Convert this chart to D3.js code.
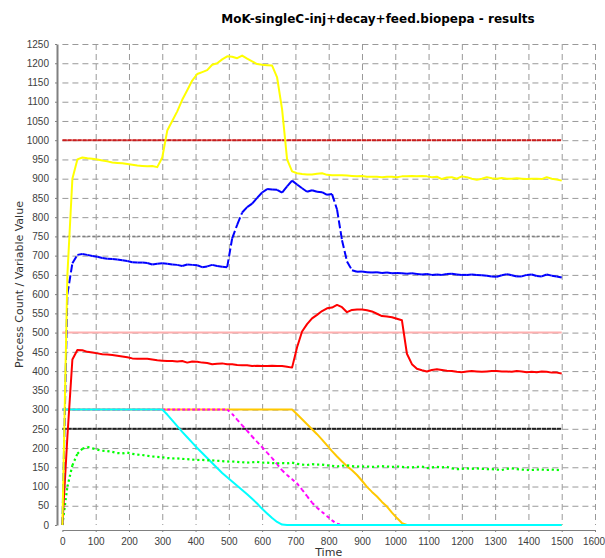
<!DOCTYPE html>
<html>
<head>
<meta charset="utf-8">
<script src="https://cdn.jsdelivr.net/npm/d3@7"></script>
<style>
  body { margin: 0; background: #fff; }
  svg { display: block; }
  .tick text { font-family: "Liberation Sans", Arial, sans-serif; font-size: 10px; fill: #404040; }
  .axis-label { font-family: "DejaVu Sans", sans-serif; font-size: 11px; fill: #333; }
  .title { font-family: "DejaVu Sans", sans-serif; font-size: 12px; font-weight: bold; fill: #000; }
</style>
</head>
<body>
<svg id="chart"></svg>
<script>
// sample times (one point every 15 time units)
const times = [
  0,15,30,45,60,75,90,105,120,135,
  150,165,180,195,210,225,240,255,270,285,
  300,315,330,345,360,375,390,405,420,435,
  450,465,480,495,510,525,540,555,570,585,
  600,615,630,645,660,675,690,705,720,735,
  750,765,780,795,810,825,840,855,870,885,
  900,915,930,945,960,975,990,1005,1020,1035,
  1050,1065,1080,1095,1110,1125,1140,1155,1170,1185,
  1200,1215,1230,1245,1260,1275,1290,1305,1320,1335,
  1350,1365,1380,1395,1410,1425,1440,1455,1470,1485,
  1500];

const yellowVals = [
  0,650,900,950,955,953,952,950,947,945,
  942,941,940,938,936,934,933,932,933,930,
  955,1025,1050,1075,1105,1130,1155,1172,1177,1182,
  1196,1200,1210,1218,1217,1213,1220,1212,1205,1198,
  1196,1195,1194,1163,1080,950,919,914,912,911,
  911,913,914,910,909,909,909,908,907,906,
  907,905,905,905,904,905,905,904,906,906,
  907,906,907,906,904,905,899,903,904,900,
  906,904,900,897,900,904,901,900,902,900,
  900,901,900,899,900,900,899,904,900,898,
  895];

const blueVals = [
  0,600,680,702,704,702,699,697,694,692,
  691,690,688,686,683,682,682,681,677,679,
  680,679,677,676,673,677,676,675,670,672,
  676,673,671,670,745,780,812,826,835,850,
  864,873,872,871,864,880,895,885,875,866,
  870,866,865,858,860,820,740,685,662,658,
  659,657,656,657,655,656,654,655,654,653,
  654,652,651,652,650,651,650,652,653,651,
  650,650,651,650,649,648,646,645,649,652,
  649,646,646,650,651,647,646,651,648,646,
  643];

const redVals = [
  0,230,430,455,454,450,448,446,444,443,
  442,440,438,436,433,432,432,432,430,428,
  427,426,426,425,426,422,425,424,422,421,
  418,419,420,418,418,416,415,415,413,414,
  413,413,414,413,413,411,409,462,503,522,
  537,546,556,563,565,572,566,553,559,560,
  560,558,555,549,543,542,540,536,532,445,
  418,406,402,399,403,405,403,401,400,398,
  397,399,400,399,398,399,400,400,399,399,
  398,400,399,397,398,397,399,398,396,396,
  394];

const greenVals = [
  0,100,155,185,198,203,199,196,193,192,
  190,187,186,188,185,183,182,180,178,177,
  176,174,173,173,172,171,170,169,169,168,
  168,167,166,165,165,164,163,162,163,164,
  162,162,161,160,161,160,162,159,157,156,
  158,157,157,155,154,152,154,155,153,152,
  152,152,151,152,153,152,151,152,151,150,
  150,151,152,148,150,151,150,151,147,145,
  146,147,146,147,146,145,145,144,143,146,
  147,145,144,143,143,144,144,143,144,143,
  143];

const cyanVals = [
  300,300,300,300,300,300,300,300,300,300,
  300,300,300,300,300,300,300,300,300,300,
  300,287,272,257,242,228,214,200,187,174,
  161,148,135,124,113,102,91,80,68,56,
  42,30,18,8,1,0,0,0,0,0,
  0,0,0,0,0,0,0,0,0,0,
  0,0,0,0,0,0,0,0,0,0,
  0,0,0,0,0,0,0,0,0,0,
  0,0,0,0,0,0,0,0,0,0,
  0,0,0,0,0,0,0,0,0,0,
  0];

const magentaVals = [
  300,300,300,300,300,300,300,300,300,300,
  300,300,300,300,300,300,300,300,300,300,
  300,300,300,300,300,300,300,300,300,300,
  300,300,300,300,289,274,259,245,230,216,
  202,188,174,158,142,130,119,108,92,75,
  58,45,34,23,12,3,0,0,0,0,
  0,0,0,0,0,0,0,0,0,0,
  0,0,0,0,0,0,0,0,0,0,
  0,0,0,0,0,0,0,0,0,0,
  0,0,0,0,0,0,0,0,0,0,
  0];

const orangeVals = [
  300,300,300,300,300,300,300,300,300,300,
  300,300,300,300,300,300,300,300,300,300,
  300,300,300,300,300,300,300,300,300,300,
  300,300,300,300,300,300,300,300,300,300,
  300,300,300,300,300,300,300,288,275,262,
  249,236,222,207,192,178,165,153,142,130,
  115,99,86,74,60,48,32,18,5,0,
  0,0,0,0,0,0,0,0,0,0,
  0,0,0,0,0,0,0,0,0,0,
  0,0,0,0,0,0,0,0,0,0,
  0];

const level1000 = [
  1000,1000,1000,1000,1000,1000,1000,1000,1000,1000,
  1000,1000,1000,1000,1000,1000,1000,1000,1000,1000,
  1000,1000,1000,1000,1000,1000,1000,1000,1000,1000,
  1000,1000,1000,1000,1000,1000,1000,1000,1000,1000,
  1000,1000,1000,1000,1000,1000,1000,1000,1000,1000,
  1000,1000,1000,1000,1000,1000,1000,1000,1000,1000,
  1000,1000,1000,1000,1000,1000,1000,1000,1000,1000,
  1000,1000,1000,1000,1000,1000,1000,1000,1000,1000,
  1000,1000,1000,1000,1000,1000,1000,1000,1000,1000,
  1000,1000,1000,1000,1000,1000,1000,1000,1000,1000,
  1000];

const level750 = [
  750,750,750,750,750,750,750,750,750,750,
  750,750,750,750,750,750,750,750,750,750,
  750,750,750,750,750,750,750,750,750,750,
  750,750,750,750,750,750,750,750,750,750,
  750,750,750,750,750,750,750,750,750,750,
  750,750,750,750,750,750,750,750,750,750,
  750,750,750,750,750,750,750,750,750,750,
  750,750,750,750,750,750,750,750,750,750,
  750,750,750,750,750,750,750,750,750,750,
  750,750,750,750,750,750,750,750,750,750,
  750];

const level500 = [
  500,500,500,500,500,500,500,500,500,500,
  500,500,500,500,500,500,500,500,500,500,
  500,500,500,500,500,500,500,500,500,500,
  500,500,500,500,500,500,500,500,500,500,
  500,500,500,500,500,500,500,500,500,500,
  500,500,500,500,500,500,500,500,500,500,
  500,500,500,500,500,500,500,500,500,500,
  500,500,500,500,500,500,500,500,500,500,
  500,500,500,500,500,500,500,500,500,500,
  500,500,500,500,500,500,500,500,500,500,
  500];

const level250 = [
  250,250,250,250,250,250,250,250,250,250,
  250,250,250,250,250,250,250,250,250,250,
  250,250,250,250,250,250,250,250,250,250,
  250,250,250,250,250,250,250,250,250,250,
  250,250,250,250,250,250,250,250,250,250,
  250,250,250,250,250,250,250,250,250,250,
  250,250,250,250,250,250,250,250,250,250,
  250,250,250,250,250,250,250,250,250,250,
  250,250,250,250,250,250,250,250,250,250,
  250,250,250,250,250,250,250,250,250,250,
  250];

const xTicks = [0,100,200,300,400,500,600,700,800,900,1000,1100,1200,1300,1400,1500,1600];
const yTicks = [0,50,100,150,200,250,300,350,400,450,500,550,600,650,700,750,800,850,900,950,1000,1050,1100,1150,1200,1250];

class ResultsChart {
  constructor(_config) {
    this.config = {
      parentElement: _config.parentElement,
      containerWidth: 605,
      containerHeight: 558,
      margin: {top: 44, right: 10, bottom: 33, left: 62.4}
    };
    // bottom to top drawing order
    this.series = [
      {values: level750, color: '#808080', dash: '3,2', width: 1.5},
      {values: level500, color: '#ffafaf', dash: null, width: 2},
      {values: level250, color: '#202020', dash: '4.4,0.6', width: 2},
      {values: level1000, color: '#cc1c1c', dash: '4.4,0.6', width: 2},
      {values: orangeVals, color: '#ffc800', dash: null, width: 2},
      {values: magentaVals, color: '#ff00ff', dash: '3,3', width: 2},
      {values: cyanVals, color: '#00ffff', dash: null, width: 2},
      {values: greenVals, color: '#00ff00', dash: '2.2,2.8', width: 2.2},
      {values: redVals, color: '#ff0000', dash: null, width: 2},
      {values: blueVals, color: '#0000ff', dash: '8,3', width: 2},
      {values: yellowVals, color: '#ffff00', dash: null, width: 2}
    ];
    this.initVis();
  }

  initVis() {
    let vis = this;
    vis.width = 595 - vis.config.margin.left;
    vis.height = 525 - vis.config.margin.top;

    vis.svg = d3.select(vis.config.parentElement)
      .attr('width', vis.config.containerWidth)
      .attr('height', vis.config.containerHeight);

    vis.chart = vis.svg.append('g')
      .attr('transform', `translate(${vis.config.margin.left},${vis.config.margin.top})`);

    vis.xScale = d3.scaleLinear().domain([0, 1600]).range([0, vis.width]);
    vis.yScale = d3.scaleLinear().domain([0, 1250]).range([vis.height, 0]);

    // dashed grid
    vis.chart.append('g')
      .attr('class', 'grid')
      .call(d3.axisBottom(vis.xScale).tickValues(xTicks.slice(1)).tickSize(vis.height).tickFormat(''));
    vis.chart.append('g')
      .attr('class', 'grid')
      .call(d3.axisLeft(vis.yScale).tickValues(yTicks.slice(1)).tickSize(-vis.width).tickFormat(''));
    vis.chart.selectAll('.grid .domain').remove();
    vis.chart.selectAll('.grid line')
      .attr('stroke', '#999')
      .attr('stroke-width', 1)
      .attr('stroke-dasharray', '6,4');

    vis.yAxisG = vis.chart.append('g')
      .attr('transform', 'translate(-5.4,0)')
      .call(d3.axisLeft(vis.yScale).tickValues(yTicks).tickFormat(d3.format('d'))
        .tickSize(2).tickSizeOuter(0).tickPadding(6));
    vis.yAxisG.select('.domain').attr('stroke', '#808080').attr('stroke-width', 2);

    vis.xAxisG = vis.chart.append('g')
      .attr('transform', `translate(0,${vis.height + 5})`)
      .call(d3.axisBottom(vis.xScale).tickValues(xTicks).tickFormat(d3.format('d'))
        .tickSize(2).tickSizeOuter(0).tickPadding(6));
    vis.xAxisG.select('.domain').attr('stroke', '#808080');
    // keep the last label inside the window
    vis.xAxisG.selectAll('.tick text').filter(d => d === 1600).attr('dx', -1.5);
    vis.chart.selectAll('.tick line').filter(function() { return !this.closest('.grid'); })
      .attr('stroke', '#808080');

    vis.svg.append('text')
      .attr('class', 'title')
      .attr('x', 378).attr('y', 23)
      .attr('text-anchor', 'middle')
      .text('MoK-singleC-inj+decay+feed.biopepa - results');

    vis.svg.append('text')
      .attr('class', 'axis-label')
      .attr('x', vis.config.margin.left + vis.width / 2).attr('y', 556)
      .attr('text-anchor', 'middle')
      .text('Time');

    vis.svg.append('text')
      .attr('class', 'axis-label')
      .attr('transform', `translate(23,${vis.config.margin.top + vis.height / 2}) rotate(-90)`)
      .attr('text-anchor', 'middle')
      .text('Process Count / Variable Value');

    vis.renderVis();
  }

  renderVis() {
    let vis = this;
    const line = d3.line()
      .x(d => vis.xScale(d[0]))
      .y(d => vis.yScale(d[1]));

    vis.series.forEach(s => {
      const pts = times.map((t, i) => [t, s.values[i]]);
      if (!s.dash) {
        vis.chart.append('path')
          .datum(pts)
          .attr('d', line)
          .attr('fill', 'none')
          .attr('stroke', s.color)
          .attr('stroke-width', s.width)
          .attr('stroke-linejoin', 'round');
      } else {
        // each segment restarts its dash pattern, like the original renderer
        const segs = pts.slice(1).map((p, i) => [pts[i], p]);
        vis.chart.append('g')
          .selectAll('path')
          .data(segs)
          .join('path')
            .attr('d', line)
            .attr('fill', 'none')
            .attr('stroke', s.color)
            .attr('stroke-width', s.width)
            .attr('stroke-dasharray', s.dash);
      }
    });
  }
}

new ResultsChart({parentElement: '#chart'});
</script>
</body>
</html>
